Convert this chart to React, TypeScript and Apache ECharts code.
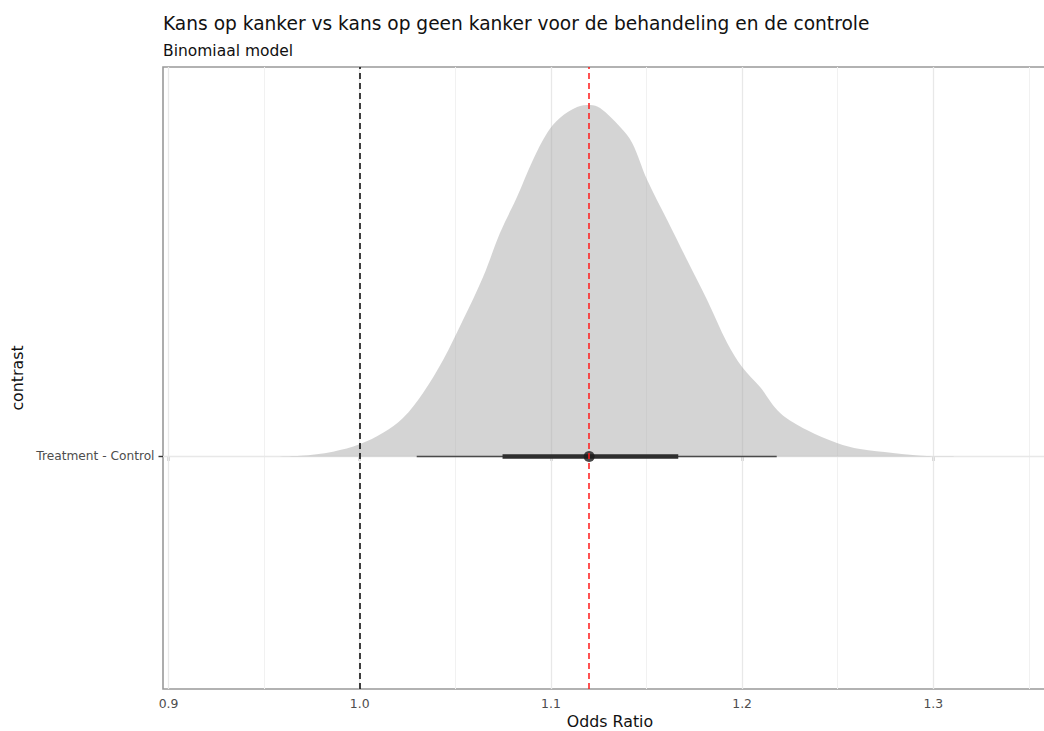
import React, { useEffect, useRef } from "react";
import * as echarts from "echarts";

const FONT = "DejaVu Sans";

const titleText = "Kans op kanker vs kans op geen kanker voor de behandeling en de controle";
const subtitleText = "Binomiaal model";
const xAxisTitle = "Odds Ratio";
const yAxisTitle = "contrast";

const categories = ["Treatment - Control"];
const categoryPos = [0];

const majorBreaks = [0.9, 1.0, 1.1, 1.2, 1.3];
const minorBreaks = [0.95, 1.05, 1.15, 1.25, 1.35];

// posterior density of the odds ratio (slab height, peak ~0.9)
const densityX = [
  0.9494, 0.9688, 0.986, 1.0002, 1.0122, 1.0226, 1.0331, 1.0436, 1.054, 1.0645,
  1.0734, 1.0823, 1.0906, 1.098, 1.1048, 1.1137, 1.1205, 1.1257, 1.1362, 1.1425,
  1.1503, 1.1608, 1.1712, 1.1817, 1.1922, 1.2, 1.2094, 1.2199, 1.2339, 1.2496,
  1.2617, 1.2789, 1.2967, 1.314,
];
const densityY = [
  0.0, 0.002, 0.0124, 0.032, 0.061, 0.099, 0.164, 0.249, 0.352, 0.463,
  0.577, 0.67, 0.765, 0.835, 0.874, 0.902, 0.907, 0.899, 0.85, 0.809,
  0.714, 0.61, 0.507, 0.404, 0.293, 0.231, 0.179, 0.112, 0.068, 0.035,
  0.019, 0.009, 0.001, 0.0,
];

const interval95 = [1.0298, 1.2181];
const interval66 = [1.0747, 1.1666];
const pointEstimate = 1.12;
const nullValue = 1.0;
const estimateLine = 1.1204;

const xMin = 0.8971;
const xMax = 1.3647;
const yMin = -0.6;
const yMax = 1.005;

export default function App() {
  const ref = useRef<HTMLDivElement>(null);
  useEffect(() => {
    if (!ref.current) return;
    const chart = echarts.init(ref.current, undefined, { renderer: "svg" });
    const cat0 = categoryPos[0];
    const option: any = {
      animation: false,
      backgroundColor: "#ffffff",
      title: [
        {
          text: titleText,
          left: 163,
          top: 14,
          padding: 0,
          textStyle: { fontFamily: FONT, fontSize: 18.6, fontWeight: "normal", color: "#111" },
        },
        {
          text: subtitleText,
          left: 163,
          top: 43,
          padding: 0,
          textStyle: { fontFamily: FONT, fontSize: 15.5, fontWeight: "normal", color: "#111" },
        },
      ],
      grid: {
        left: 163,
        top: 67,
        width: 894,
        height: 622,
        outerBoundsMode: "none",
        containLabel: false,
        show: true,
        backgroundColor: "#ffffff",
        borderColor: "#999999",
        borderWidth: 1.6,
      },
      xAxis: {
        type: "value",
        min: xMin,
        max: xMax,
        axisLine: { show: false },
        splitLine: { show: false },
        axisTick: {
          show: true,
          length: 4.5,
          customValues: majorBreaks,
          lineStyle: { color: "#333", width: 1.4 },
        },
        axisLabel: {
          customValues: majorBreaks,
          formatter: (v: number) => v.toFixed(1),
          color: "#4d4d4d",
          fontFamily: FONT,
          fontSize: 12.4,
          margin: 8,
        },
        name: xAxisTitle,
        nameLocation: "middle",
        nameGap: 24,
        nameTextStyle: { fontFamily: FONT, fontSize: 15.8, color: "#111" },
      },
      yAxis: {
        type: "value",
        min: yMin,
        max: yMax,
        axisLine: { show: false },
        splitLine: { show: false },
        axisTick: {
          show: true,
          length: 4.5,
          customValues: categoryPos,
          lineStyle: { color: "#333", width: 1.4 },
        },
        axisLabel: {
          customValues: categoryPos,
          formatter: (v: number) => {
            const i = categoryPos.findIndex((p) => Math.abs(p - v) < 1e-9);
            return i >= 0 ? categories[i] : "";
          },
          color: "#4d4d4d",
          fontFamily: FONT,
          fontSize: 12.2,
          margin: 8.5,
        },
        name: yAxisTitle,
        nameLocation: "middle",
        nameGap: 135.5,
        nameTextStyle: { fontFamily: FONT, fontSize: 15.8, color: "#111" },
      },
      series: [
        {
          type: "line",
          name: "grid",
          z: 1,
          silent: true,
          data: [[majorBreaks[0], cat0]],
          symbol: "none",
          lineStyle: { opacity: 0 },
          markLine: {
            z: 1,
            silent: true,
            symbol: ["none", "none"],
            label: { show: false },
            data: [
              ...minorBreaks.map((v) => ({
                xAxis: v,
                lineStyle: { color: "#f1f1f1", width: 1, type: "solid" },
              })),
              ...majorBreaks.map((v) => ({
                xAxis: v,
                lineStyle: { color: "#e8e8e8", width: 1.3, type: "solid" },
              })),
              ...categoryPos.map((v) => ({
                yAxis: v,
                lineStyle: { color: "#e8e8e8", width: 1.3, type: "solid" },
              })),
            ],
          },
        },
        {
          type: "line",
          name: "slab",
          z: 2,
          silent: true,
          data: densityX.map((x, i) => [x, cat0 + densityY[i]]),
          smooth: 0.35,
          symbol: "none",
          lineStyle: { width: 0, opacity: 0 },
          areaStyle: { color: "rgb(163,163,163)", opacity: 0.47, origin: cat0 },
        },
        {
          type: "line",
          name: "interval95",
          z: 3,
          silent: true,
          data: interval95.map((x) => [x, cat0]),
          symbol: "none",
          lineStyle: { color: "#4a4a4a", width: 1.6 },
        },
        {
          type: "line",
          name: "interval66",
          z: 4,
          silent: true,
          data: interval66.map((x) => [x, cat0]),
          symbol: "none",
          lineStyle: { color: "#2e2e2e", width: 4.5 },
        },
        {
          type: "scatter",
          name: "point",
          z: 5,
          silent: true,
          data: [[pointEstimate, cat0]],
          symbolSize: 11,
          itemStyle: { color: "#1c1c1c" },
        },
        {
          type: "line",
          name: "vlines",
          z: 6,
          silent: true,
          data: [[nullValue, cat0]],
          symbol: "none",
          lineStyle: { opacity: 0 },
          markLine: {
            z: 6,
            silent: true,
            symbol: ["none", "none"],
            label: { show: false },
            data: [
              { xAxis: nullValue, lineStyle: { color: "#000000", width: 1.5, type: [6, 4] } },
              { xAxis: estimateLine, lineStyle: { color: "#ff1a1a", width: 1.5, type: [6, 4] } },
            ],
          },
        },
      ],
    };
    chart.setOption(option);
    return () => chart.dispose();
  }, []);
  return (
    <div
      ref={ref}
      style={{ position: "fixed", left: 0, top: 0, width: 1044, height: 731 }}
    />
  );
}
